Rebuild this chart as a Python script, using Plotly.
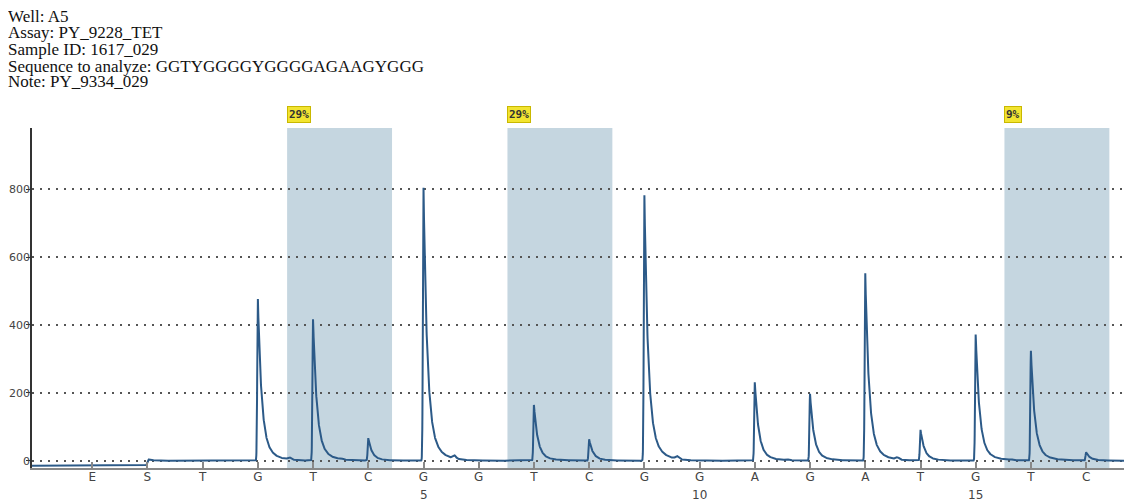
import numpy as np
import plotly.graph_objects as go

# ---------------- data ----------------
header_lines = [
    "Well: A5",
    "Assay: PY_9228_TET",
    "Sample ID: 1617_029",
    "Sequence to analyze: GGTYGGGGYGGGGAGAAGYGGG",
    "Note: PY_9334_029",
]

disp_labels = ["E", "S", "T", "G", "T", "C", "G", "G", "T", "C",
               "G", "G", "A", "G", "A", "T", "G", "T", "C"]
disp_pos = list(range(-1, 18))
number_pos = [5, 10, 15]
number_text = ["5", "10", "15"]

# peak height at each dispensation (signal units)
peak_heights = [0, 6, 0, 481, 418, 66, 805, 0, 165, 63,
                782, 0, 232, 197, 552, 91, 374, 324, 25]

# small bumps between dispensations
bump_pos = [2.57, 3.5, 5.56, 9.59, 11.58, 13.58, 15.63, 16.57]
bump_h = [6, 3, 9, 8, 3, 6, 2, 2]

pre_start_level = -15  # baseline before substrate dispensation

# analysed (shaded) regions and their percentages
shade_start = [2.53, 6.52, 15.52]
shade_end = [4.43, 8.42, 17.42]
shade_text = ["29%", "29%", "9%"]

y_ticks = [0, 200, 400, 600, 800]
x_range = [-2.09, 17.83]
y_range = [-21.5, 980]

# ---------------- build the pyrogram trace ----------------
x = np.linspace(x_range[0], x_range[1], 9000)
y = pre_start_level - pre_start_level / (1 + np.exp(-x / 0.008))

def peak_shape(xx, p0, h):
    t = xx - p0
    tp = np.clip(t, 0, None)
    rise = np.exp(-(np.clip(t, None, 0) / 0.015) ** 2)
    decay = 0.86 * np.exp(-tp / 0.065) + 0.14 * np.exp(-tp / 0.2)
    return h * np.where(t < 0, rise, decay)

for p0, h in zip(disp_pos, peak_heights):
    if h:
        y = y + peak_shape(x, p0, h)
for p0, h in zip(bump_pos, bump_h):
    y = y + h * np.exp(-((x - p0) / 0.04) ** 2)

fig = go.Figure()
fig.add_trace(go.Scatter(
    x=x, y=y, mode="lines",
    line=dict(color="#2c5a88", width=2),
    hoverinfo="skip", showlegend=False,
))

# shaded regions
for s, e, txt in zip(shade_start, shade_end, shade_text):
    fig.add_shape(type="rect", xref="x", yref="paper", x0=s, x1=e, y0=0, y1=1,
                  fillcolor="#c5d6e0", line=dict(width=0), layer="below")
    fig.add_annotation(x=s, xref="x", y=1, yref="paper", xanchor="left",
                       yanchor="bottom", yshift=5, text="<b>" + txt + "</b>",
                       showarrow=False,
                       font=dict(family="DejaVu Sans Mono", size=11, color="#333333"),
                       bgcolor="#f2e431", bordercolor="#c9b800", borderwidth=1,
                       borderpad=1)

# header text
header_shift = [112, 95.4, 78.7, 62, 46.4]
for line, ys in zip(header_lines, header_shift):
    fig.add_annotation(x=0, xref="paper", y=1, yref="paper", xanchor="left",
                       yanchor="middle", xshift=-26, yshift=ys, text=line,
                       showarrow=False,
                       font=dict(family="Liberation Serif", size=17, color="#111111"))

# dispensation numbers under the letters
for p, t in zip(number_pos, number_text):
    fig.add_annotation(x=p, xref="x", y=0, yref="paper", xanchor="center",
                       yanchor="middle", yshift=-27, text=t, showarrow=False,
                       font=dict(family="DejaVu Sans", size=12, color="#444444"))

# the page body has an 8px margin, so the figure is sized to fit the window
fig.update_layout(
    width=1124, height=493,
    margin=dict(l=24, r=0, t=120, b=33),
    paper_bgcolor="white", plot_bgcolor="white",
    xaxis=dict(range=x_range, tickvals=disp_pos, ticktext=disp_labels,
               automargin=False,
               showgrid=False, zeroline=False, showline=True,
               linecolor="#888888", linewidth=2, ticks="inside", ticklen=6,
               tickcolor="#888888", tickwidth=1.5, ticklabelstandoff=-3,
               tickfont=dict(family="DejaVu Sans", size=12, color="#444444")),
    yaxis=dict(range=y_range, tickvals=y_ticks, showgrid=True,
               automargin=False,
               gridcolor="#555555", gridwidth=1.5, griddash="2px,6px",
               zeroline=False, showline=True, linecolor="#333333", linewidth=1.5,
               ticks="outside", ticklen=4, tickcolor="#333333",
               ticklabelstandoff=-6,
               tickfont=dict(family="DejaVu Sans", size=11, color="#444444")),
)

fig.write_html("out.html")
